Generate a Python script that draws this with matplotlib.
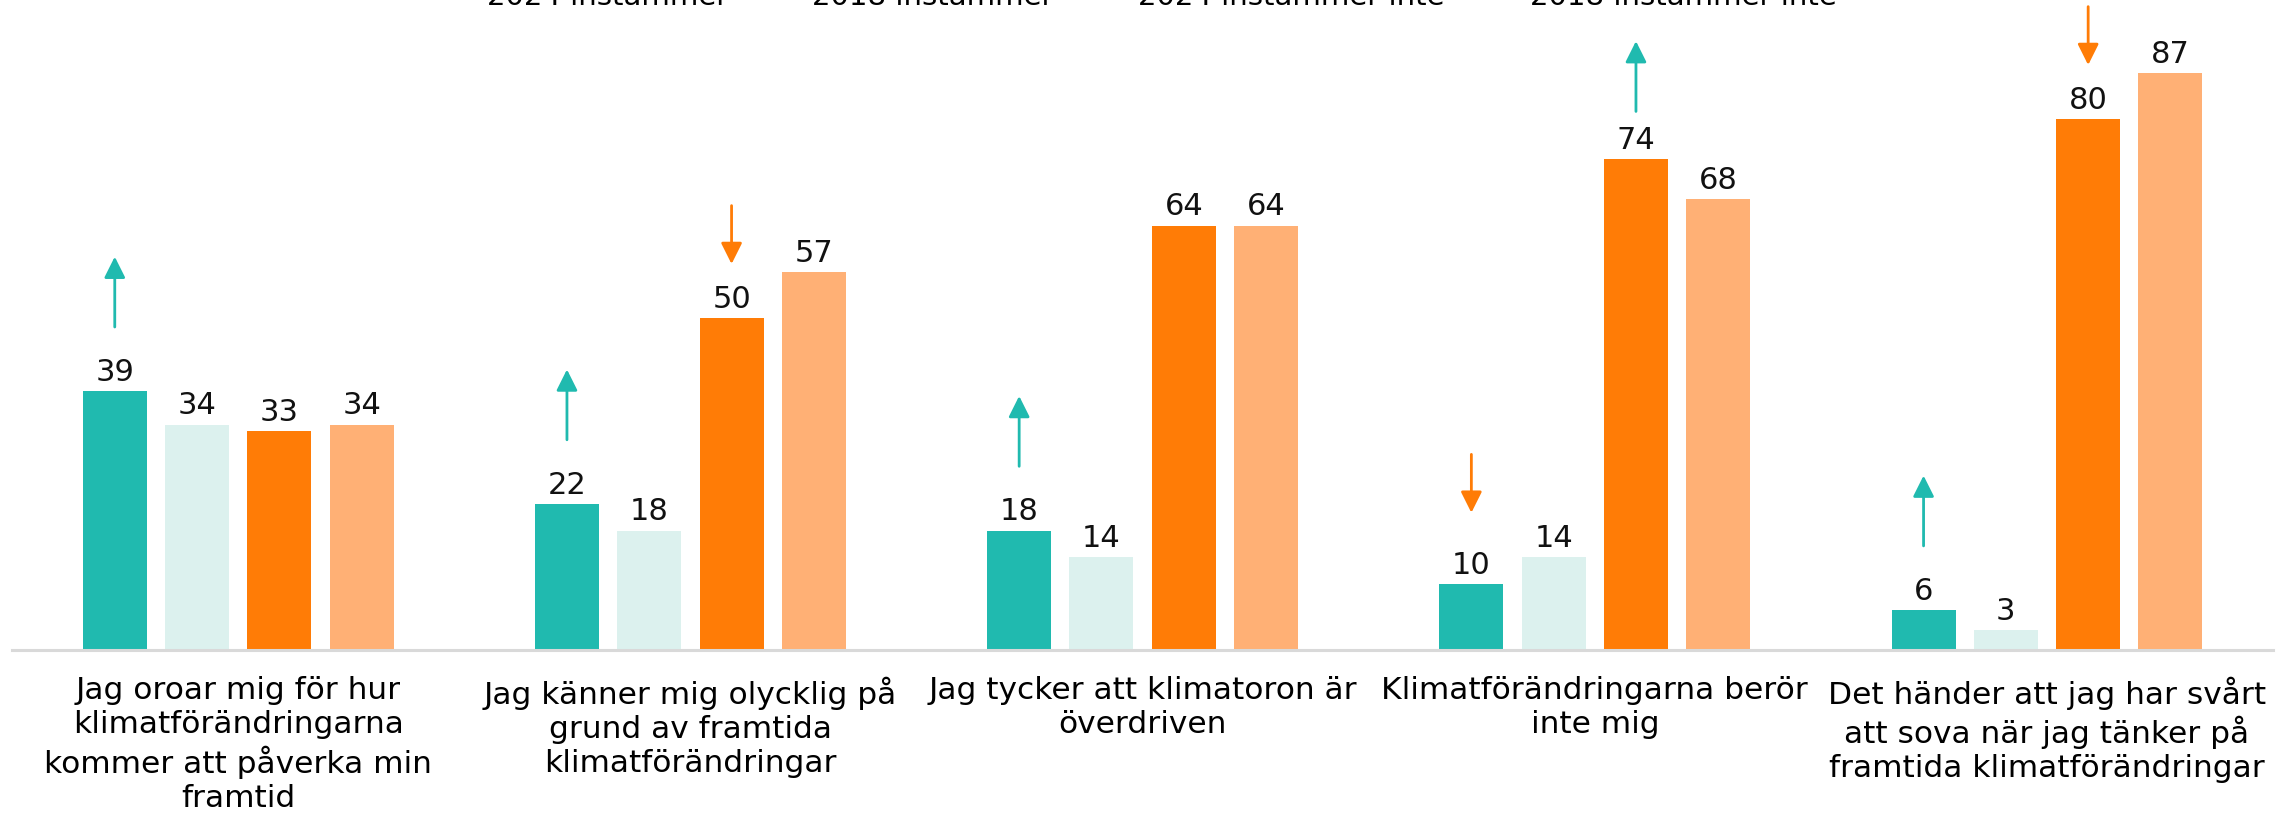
import numpy as np
import matplotlib.pyplot as plt
from matplotlib.lines import Line2D

# Data
categories = [
    "Jag oroar mig för hur\nklimatförändringarna\nkommer att påverka min\nframtid",
    "Jag känner mig olycklig på\ngrund av framtida\nklimatförändringar",
    "Jag tycker att klimatoron är\növerdriven",
    "Klimatförändringarna berör\ninte mig",
    "Det händer att jag har svårt\natt sova när jag tänker på\nframtida klimatförändringar",
]
series_names = ["2024 instämmer", "2018 instämmer",
                "2024 instämmer inte", "2018 instämmer inte"]
agree_2024 = [39, 22, 18, 10, 6]
agree_2018 = [34, 18, 14, 14, 3]
disagree_2024 = [33, 50, 64, 74, 80]
disagree_2018 = [34, 57, 64, 68, 87]

# change markers: (category index, series index, direction)
changes = [(0, 0, "up"), (1, 0, "up"), (1, 2, "down"), (2, 0, "up"),
           (3, 0, "down"), (3, 2, "up"), (4, 0, "up"), (4, 2, "down")]
# small vertical nudges for a couple of arrows (data units)
nudge = {(3, 0): 2.5, (3, 2): -2.5}

colors = ["#20BAAF", "#DCF1EE", "#FF7C06", "#FFB075"]
teal, orange = "#20BAAF", "#FF7C06"

plt.rcParams['font.family'] = ['DejaVu Sans']

fig = plt.figure(figsize=(22.85, 8.22), dpi=100)
ax = fig.add_axes([0.0053, 0.2092, 0.9895, 0.7908])

x = np.arange(len(categories))
step = 0.182
width = 0.1415
all_series = [agree_2024, agree_2018, disagree_2024, disagree_2018]

for i, vals in enumerate(all_series):
    bars = ax.bar(x + (i - 1.5) * step, vals, width, color=colors[i],
                  label=series_names[i])
    ax.bar_label(bars, padding=3, fontsize=22, color="#111111")

for c, s, d in changes:
    xpos = x[c] + (s - 1.5) * step
    v = all_series[s][c] + nudge.get((c, s), 0)
    if d == "up":
        tail, tip, col = v + 9.7, v + 20.3, teal
    else:
        tail, tip, col = v + 17, v + 8.2, orange
    ax.annotate("", xy=(xpos, tip), xytext=(xpos, tail),
                arrowprops=dict(arrowstyle="-|>", color=col, lw=2,
                                mutation_scale=32, shrinkA=0, shrinkB=0))

ax.set_xlim(-0.5, 4.5)
ax.set_ylim(0, 98)
ax.set_xticks(x)
ax.set_xticklabels(categories, fontsize=22.5, linespacing=1.22)
ax.tick_params(axis="x", length=0, pad=19)
ax.set_yticks([])
for sp in ["top", "left", "right"]:
    ax.spines[sp].set_visible(False)
ax.spines["bottom"].set_color("#D9D9D9")
ax.spines["bottom"].set_linewidth(2.2)

handles = [Line2D([0], [0], color=c, lw=4) for c in colors]
fig.legend(handles, series_names, loc="lower center", ncol=4, frameon=False,
           bbox_to_anchor=(0.5, 0.973), fontsize=21, columnspacing=1.6,
           handlelength=0.8, handletextpad=0.5, borderaxespad=0)

fig.savefig("out.png", dpi=100)
